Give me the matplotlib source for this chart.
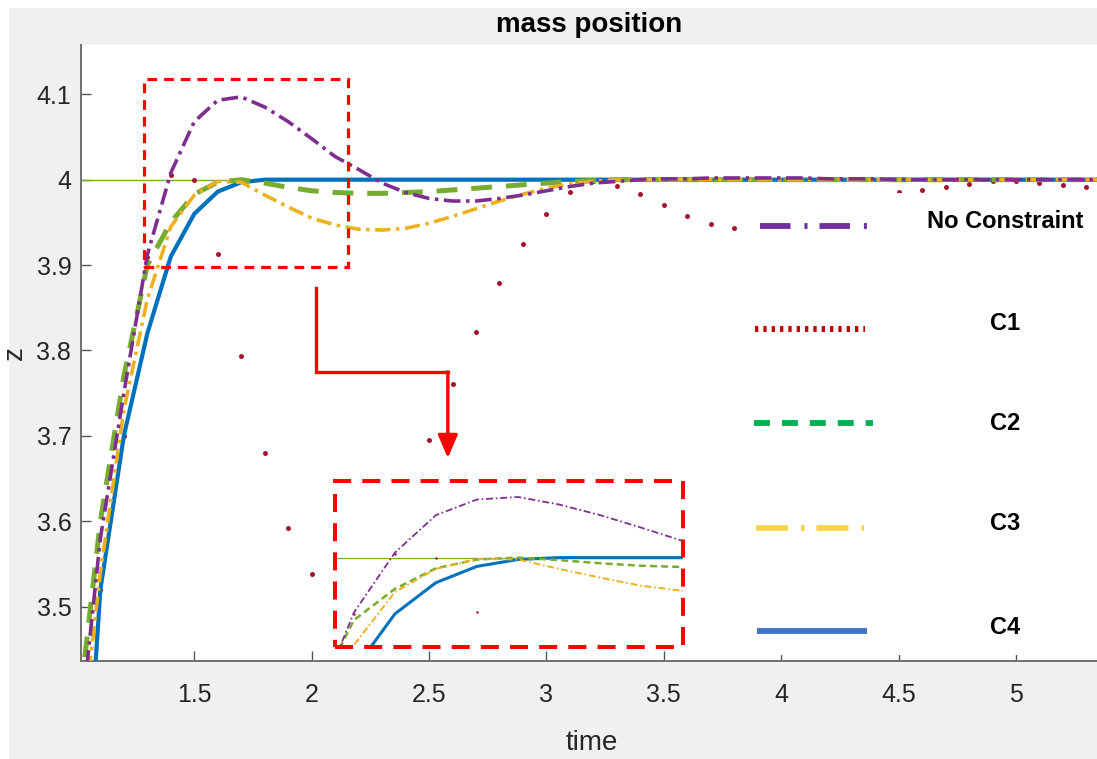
import matplotlib
matplotlib.use('Agg')
import matplotlib.pyplot as plt
from matplotlib import font_manager
from matplotlib.patches import Rectangle
from matplotlib.lines import Line2D
from matplotlib.transforms import Affine2D

plt.rcParams['font.family'] = ['Liberation Sans', 'DejaVu Sans']
plt.rcParams['lines.scale_dashes'] = False

# ---- data ----
time = [1.0, 1.1, 1.2, 1.3, 1.4, 1.5, 1.6, 1.7, 1.8, 1.9,
        2.0, 2.1, 2.2, 2.3, 2.4, 2.5, 2.6, 2.7, 2.8, 2.9,
        3.0, 3.1, 3.2, 3.3, 3.4, 3.5, 3.6, 3.7, 3.8, 3.9,
        4.0, 4.1, 4.2, 4.3, 4.4, 4.5, 4.6, 4.7, 4.8, 4.9,
        5.0, 5.1, 5.2, 5.3, 5.4]

no_constraint = [3.32, 3.58, 3.75, 3.912, 4.008, 4.068, 4.093, 4.097, 4.085, 4.068,
                 4.048, 4.027, 4.012, 3.996, 3.985, 3.978, 3.975, 3.975, 3.978, 3.982,
                 3.987, 3.992, 3.996, 3.998, 4.0, 4.001, 4.001, 4.002, 4.002, 4.002,
                 4.002, 4.002, 4.001, 4.001, 4.001, 4.0, 4.0, 4.0, 4.0, 4.0,
                 4.0, 4.0, 4.0, 4.0, 4.0]

c1 = [3.00, 3.52, 3.70, 3.91, 4.006, 4.0, 3.913, 3.793, 3.68, 3.592,
      3.538, 3.523, 3.54, 3.58, 3.635, 3.695, 3.761, 3.822, 3.879, 3.925,
      3.96, 3.985, 3.998, 3.993, 3.983, 3.97, 3.957, 3.948, 3.943, 3.943,
      3.948, 3.957, 3.967, 3.976, 3.982, 3.986, 3.988, 3.992, 3.995, 3.998,
      3.998, 3.996, 3.994, 3.992, 3.991]

c2 = [3.36, 3.60, 3.77, 3.90, 3.950, 3.983, 3.997, 4.0, 3.996, 3.991,
      3.987, 3.985, 3.984, 3.984, 3.985, 3.986, 3.988, 3.990, 3.992, 3.994,
      3.996, 3.998, 3.999, 4.0, 4.0, 4.0, 4.0, 4.0, 4.0, 4.0,
      4.0, 4.0, 4.0, 4.0, 4.0, 4.0, 4.0, 4.0, 4.0, 4.0,
      4.0, 4.0, 4.0, 4.0, 4.0]

c3 = [3.30, 3.54, 3.73, 3.86, 3.945, 3.982, 3.998, 3.997, 3.982, 3.968,
      3.955, 3.947, 3.942, 3.941, 3.943, 3.949, 3.957, 3.966, 3.975, 3.983,
      3.990, 3.995, 3.998, 4.0, 4.0, 4.0, 4.0, 4.0, 4.0, 4.0,
      4.0, 4.0, 4.0, 4.0, 4.0, 4.0, 4.0, 4.0, 4.0, 4.0,
      4.0, 4.0, 4.0, 4.0, 4.0]

c4 = [3.10, 3.52, 3.70, 3.82, 3.91, 3.96, 3.986, 3.997, 4.0, 4.0,
      4.0, 4.0, 4.0, 4.0, 4.0, 4.0, 4.0, 4.0, 4.0, 4.0,
      4.0, 4.0, 4.0, 4.0, 4.0, 4.0, 4.0, 4.0, 4.0, 4.0,
      4.0, 4.0, 4.0, 4.0, 4.0, 4.0, 4.0, 4.0, 4.0, 4.0,
      4.0, 4.0, 4.0, 4.0, 4.0]

target = 4.0

xticks = [1.5, 2, 2.5, 3, 3.5, 4, 4.5, 5]
xtick_labels = ['1.5', '2', '2.5', '3', '3.5', '4', '4.5', '5']
yticks = [3.5, 3.6, 3.7, 3.8, 3.9, 4.0, 4.1]
ytick_labels = ['3.5', '3.6', '3.7', '3.8', '3.9', '4', '4.1']

legend_labels = ['No Constraint', 'C1', 'C2', 'C3', 'C4']

# zoomed region marked in the main plot and shown in the inset
zoom_box = (1.286, 2.156, 3.898, 4.118)
inset_xlim = (1.254, 2.102)
inset_ylim = (3.857, 4.1226)

# arrow from the marked box to the inset
arrow_t = [2.018, 2.018, 2.580]
arrow_z = [3.873, 3.775, 3.775]
arrow_tip = (2.580, 3.674)

# ---- figure ----
W, H = 1097, 759
fig = plt.figure(figsize=(W / 100, H / 100), dpi=100, facecolor='white')
# pixel coordinates (origin top-left) -> figure
pix = Affine2D().scale(1 / W, -1 / H).translate(0, 1) + fig.transFigure

fig.add_artist(Rectangle((9, 8), W, H, transform=pix, facecolor='#f0f0f0',
                         edgecolor='none', zorder=-10))

ax = fig.add_axes([81 / W, 1 - 661 / H, (1097 - 81) / W, (661 - 45) / H])
ax.set_facecolor('white')

ax.axhline(target, color='#77AC30', lw=1.0, zorder=2)
ax.plot(time, c1, ls='none', marker='o', ms=3.6, color='#A2142F', mec='none', zorder=2.5)
ax.plot(time, c4, color='#0072BD', lw=3.0, zorder=3)
ax.plot(time, c2, color='#77AC30', lw=3.6, dashes=(15, 10), zorder=4)
ax.plot(time, c3, color='#EDB120', lw=2.6, dashes=(11, 4, 2.5, 4), zorder=5)
ax.plot(time, no_constraint, color='#7E2F8E', lw=2.6, dashes=(12, 4, 2.5, 4), zorder=6)

t0, t1, z0, z1 = zoom_box
ax.add_patch(Rectangle((t0, z0), t1 - t0, z1 - z0, fill=False, edgecolor='#FF0000',
                       lw=2.3, linestyle=(0, (7, 5)), zorder=9))

ax.plot(arrow_t, arrow_z, color='#FF0000', lw=2.4, solid_joinstyle='miter', zorder=9)
ax.annotate('', xy=arrow_tip, xytext=(arrow_t[-1], arrow_z[-1]),
            arrowprops=dict(arrowstyle='-|>,head_length=0.7,head_width=0.3',
                            mutation_scale=20, color='#FF0000', lw=2.4,
                            shrinkA=0, shrinkB=0), zorder=9)

ax.set_xlim(1.0175, 5.345)
ax.set_ylim(3.4364, 4.1577)
ax.set_xticks(xticks)
ax.set_xticklabels(xtick_labels)
ax.set_yticks(yticks)
ax.set_yticklabels(ytick_labels)
ax.tick_params(direction='in', length=7.5, width=1, color='#555555',
               labelcolor='#262626', labelsize=18)
ax.tick_params(axis='x', pad=16)
ax.tick_params(axis='y', pad=7)
for side in ['top', 'right']:
    ax.spines[side].set_visible(False)
for side in ['left', 'bottom']:
    ax.spines[side].set_color('#707070')
    ax.spines[side].set_linewidth(1.4)

ax.set_title('mass position', fontsize=20, fontweight='bold', color='#000000', pad=9)
ax.set_xlabel('time', fontsize=20, color='#262626')
ax.xaxis.set_label_coords(0.503, -0.112)
ax.set_ylabel('z', fontsize=20, color='#262626')
ax.yaxis.set_label_coords(-0.052, 0.5)

# ---- legend (drawn like the pasted one: white box, long samples, centred labels) ----
names = {f.name for f in font_manager.fontManager.ttflist}
if 'Liberation Sans Narrow' in names:
    leg_family, leg_size = 'Liberation Sans Narrow', 20
else:
    leg_family, leg_size = 'Liberation Sans', 17

leg_colors = ['#7030A0', '#C00000', '#00B050', '#FFD24F', '#4472C4']
leg_dashes = [(22, 10, 2.2, 8.6), (2.4, 3.6), (11.5, 8.6), (23, 9.4, 2.5, 8.6), None]
leg_x = [(760, 868), (755, 865), (754, 873), (756, 864), (757, 867)]
leg_line_y = [226, 329, 423, 528, 631]
leg_text_y = [222, 323, 423, 524, 627]

fig.add_artist(Rectangle((745, 193), W - 745, 462, transform=pix, facecolor='white',
                         edgecolor='none', zorder=1))
for lab, col, dsh, (xa, xb), ly, ty in zip(legend_labels, leg_colors, leg_dashes,
                                            leg_x, leg_line_y, leg_text_y):
    ln = Line2D([xa, xb], [ly, ly], transform=pix, color=col, lw=4.2,
                solid_capstyle='butt', dash_capstyle='butt', zorder=1.1)
    if dsh is not None:
        ln.set_dashes(dsh)
    fig.add_artist(ln)
    fig.text(1005 / W, 1 - ty / H, lab, ha='center', va='center', fontsize=leg_size,
             fontweight='bold', family=[leg_family, 'DejaVu Sans'], color='black', zorder=1.2)

# ---- inset ----
ins = fig.add_axes([335 / W, 1 - 647 / H, 348 / W, 166 / H], zorder=2)
ins.set_facecolor('white')
ins.axhline(target, color='#77AC30', lw=0.9, zorder=2)
ins.plot(time, c1, ls='none', marker='o', ms=1.8, color='#A2142F', mec='none', zorder=2.5)
ins.plot(time, c4, color='#0072BD', lw=2.2, zorder=3)
ins.plot(time, c2, color='#77AC30', lw=1.8, dashes=(5, 3), zorder=4)
ins.plot(time, c3, color='#EDB120', lw=1.4, dashes=(5, 2, 1.2, 2), zorder=5)
ins.plot(time, no_constraint, color='#7E2F8E', lw=1.3, dashes=(5, 2, 1.2, 2), zorder=6)
ins.set_xlim(*inset_xlim)
ins.set_ylim(*inset_ylim)
ins.set_xticks([])
ins.set_yticks([])
for s in ins.spines.values():
    s.set_visible(False)
ins.add_patch(Rectangle((0, 0), 1, 1, transform=ins.transAxes, fill=False,
                        edgecolor='#FF0000', lw=2.9, linestyle=(0, (13, 8)),
                        clip_on=False, zorder=10))

fig.savefig('out.png', dpi=100, facecolor=fig.get_facecolor())
